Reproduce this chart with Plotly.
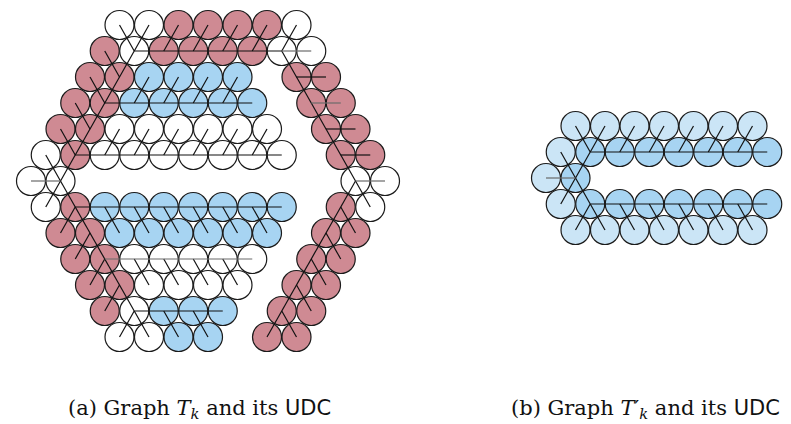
import plotly.graph_objects as go

# ---------------- data ----------------
# Triangular lattice: row r, half-step column k (k and r have equal parity).
# Each row string lists the cells at k = |r|, |r|+2, ...; '.' = no disk.
# W = white, R = red, B = blue (left graph); L = light blue, D = blue (right graph)
LEFT_ROWS = [
    "WWRRRRW",        # r = -6
    "RWRRRRWW",       # r = -5
    "RRBBBB.RR",      # r = -4
    "RRBBBBB.RR",     # r = -3
    "RRWWWWWW.RR",    # r = -2
    "WRWWWWWWW.RR",   # r = -1
    "WW.........WW",  # r =  0
    "WRBBBBBBB.RW",   # r =  1
    "RRBBBBBB.RR",    # r =  2
    "RRWWWWW.RR",     # r =  3
    "RRWWWW.RR",      # r =  4
    "RWBBB.RR",       # r =  5
    "WWBB.RR",        # r =  6
]
LEFT_FIRST_ROW = -6

RIGHT_ROWS = [
    "LLLLLLL",    # r = -2
    "LDDDDDDD",   # r = -1
    "LD",         # r =  0
    "LDDDDDDD",   # r =  1
    "LLLLLLL",    # r =  2
]
RIGHT_FIRST_ROW = -2

# tree edges as polylines of lattice points (k, r)
LEFT_SPINES = [
    [(7, -5), (17, -5)], [(5, -3), (15, -3)], [(3, -1), (17, -1)],
    [(3, 1), (17, 1)], [(7, 5), (13, 5)],
    [(18, -4), (20, -4)], [(20, -2), (22, -2)], [(21, -1), (23, -1)],
    [(7, -5), (1, 1)], [(1, -1), (7, 5)], [(17, -5), (23, 1)], [(22, 0), (16, 6)],
]
LEFT_GRAY = [
    [(17, -5), (19, -5)], [(0, 0), (2, 0)], [(22, 0), (24, 0)],
    [(5, 3), (15, 3)], [(19, -3), (21, -3)],
]
LEFT_TEETH = [
    (6, -6, 7, -5), (8, -6, 7, -5), (10, -6, 9, -5), (12, -6, 11, -5),
    (14, -6, 13, -5), (16, -6, 15, -5), (18, -6, 17, -5),
    (5, -5, 6, -4), (4, -4, 5, -3), (8, -4, 7, -3), (10, -4, 9, -3),
    (12, -4, 11, -3), (14, -4, 13, -3), (3, -3, 4, -2), (2, -2, 3, -1),
    (6, -2, 5, -1), (8, -2, 7, -1), (10, -2, 9, -1), (12, -2, 11, -1),
    (14, -2, 13, -1), (16, -2, 15, -1),
    (2, 2, 3, 1), (6, 2, 5, 1), (8, 2, 7, 1), (10, 2, 9, 1), (12, 2, 11, 1),
    (14, 2, 13, 1), (16, 2, 15, 1), (22, 2, 21, 1),
    (3, 3, 4, 2), (21, 3, 20, 2),
    (4, 4, 5, 3), (8, 4, 7, 3), (10, 4, 9, 3), (12, 4, 11, 3), (14, 4, 13, 3),
    (20, 4, 19, 3), (5, 5, 6, 4), (19, 5, 18, 4),
    (6, 6, 7, 5), (8, 6, 7, 5), (10, 6, 9, 5), (12, 6, 11, 5), (18, 6, 17, 5),
]

RIGHT_SPINES = [
    [(3, -1), (15, -1)], [(3, 1), (15, 1)],
    [(3, -1), (1, 1)], [(1, -1), (3, 1)],
]
RIGHT_GRAY = [[(0, 0), (2, 0)]]
RIGHT_TEETH = [
    (2, -2, 3, -1), (4, -2, 3, -1), (6, -2, 5, -1), (8, -2, 7, -1),
    (10, -2, 9, -1), (12, -2, 11, -1), (14, -2, 13, -1),
    (2, 2, 3, 1), (4, 2, 3, 1), (6, 2, 5, 1), (8, 2, 7, 1),
    (10, 2, 9, 1), (12, 2, 11, 1), (14, 2, 13, 1),
]

CAPTIONS = [
    "(a) Graph <i>T</i><sub><i>k</i></sub> and its <span style='font-family:DejaVu Sans'>UDC</span>",
    "(b) Graph <i>T</i>′<sub><i>k</i></sub> and its <span style='font-family:DejaVu Sans'>UDC</span>",
]

# ---------------- style / layout ----------------
FILL = {"W": "#FFFFFF", "R": "#CF8A93", "B": "#A7D4F2",
        "L": "#CBE5F6", "D": "#A7D4F2"}
W, H = 791, 424
PX_K, PX_R = 14.75, 26.0          # pixels per lattice unit
LEFT_ORIGIN = (23.0, 173.0)       # pixel of (k=0, r=0)
RIGHT_ORIGIN = (538.0, 170.0)
RIGHT_DK = (RIGHT_ORIGIN[0] - LEFT_ORIGIN[0]) / PX_K
RIGHT_DR = (RIGHT_ORIGIN[1] - LEFT_ORIGIN[1]) / PX_R


def cells(rows, first_row):
    out = []
    for i, row in enumerate(rows):
        r = first_row + i
        for j, ch in enumerate(row):
            if ch != ".":
                out.append((abs(r) + 2 * j, r, ch))
    return out


def segs(polys, teeth, dk, dr):
    xs, ys = [], []
    for p in polys:
        for (k, r) in p:
            xs.append(k + dk)
            ys.append(r + dr)
        xs.append(None)
        ys.append(None)
    for (k1, r1, k2, r2) in teeth:
        xs += [k1 + dk, k2 + dk, None]
        ys += [r1 + dr, r2 + dr, None]
    return xs, ys


fig = go.Figure()

for rows, first, dk, dr in [(LEFT_ROWS, LEFT_FIRST_ROW, 0.0, 0.0),
                            (RIGHT_ROWS, RIGHT_FIRST_ROW, RIGHT_DK, RIGHT_DR)]:
    c = cells(rows, first)
    fig.add_trace(go.Scatter(
        x=[k + dk for k, r, ch in c], y=[r + dr for k, r, ch in c],
        mode="markers", hoverinfo="skip", showlegend=False,
        marker=dict(size=29, color=[FILL[ch] for k, r, ch in c],
                    line=dict(color="#1b1b1b", width=1.2), opacity=1)))

for polys, teeth, gray, dk, dr in [(LEFT_SPINES, LEFT_TEETH, LEFT_GRAY, 0.0, 0.0),
                                   (RIGHT_SPINES, RIGHT_TEETH, RIGHT_GRAY, RIGHT_DK, RIGHT_DR)]:
    xs, ys = segs(polys, teeth, dk, dr)
    fig.add_trace(go.Scatter(x=xs, y=ys, mode="lines", hoverinfo="skip",
                             showlegend=False,
                             line=dict(color="#111111", width=1.2)))
    gx, gy = segs(gray, [], dk, dr)
    fig.add_trace(go.Scatter(x=gx, y=gy, mode="lines", hoverinfo="skip",
                             showlegend=False,
                             line=dict(color="#6a6a6a", width=1.2)))

for text, cx in zip(CAPTIONS, [191, 637]):
    fig.add_annotation(text=text, xref="paper", yref="paper",
                       x=cx / W, y=1 - 401 / H, showarrow=False,
                       xanchor="center", yanchor="middle",
                       font=dict(family="DejaVu Serif", size=21, color="#111"))

fig.update_layout(
    width=W, height=H, margin=dict(l=0, r=0, t=0, b=0),
    paper_bgcolor="white", plot_bgcolor="white",
    xaxis=dict(range=[-LEFT_ORIGIN[0] / PX_K, (W - LEFT_ORIGIN[0]) / PX_K],
               visible=False, fixedrange=True),
    yaxis=dict(range=[(H - LEFT_ORIGIN[1]) / PX_R, -LEFT_ORIGIN[1] / PX_R],
               visible=False, fixedrange=True),
)

fig.write_html("out.html")
